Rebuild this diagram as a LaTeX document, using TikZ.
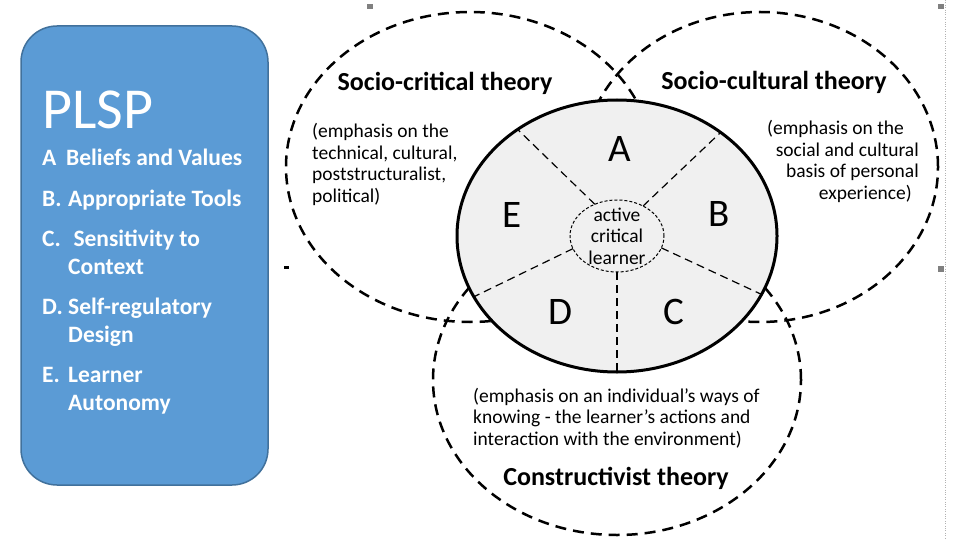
\documentclass[tikz,border=0pt]{standalone}
\usepackage{fontspec}
\setmainfont{Carlito}
\usetikzlibrary{shapes.geometric}
\definecolor{plspblue}{HTML}{5B9BD5}
\definecolor{plspedge}{HTML}{41719C}
\definecolor{learnergrey}{HTML}{F0F0F0}
\tikzset{>=latex,
  theory/.style={ellipse, draw, line width=2.5pt, dash pattern=on 11pt off 7pt, inner sep=0pt, outer sep=0pt},
  theorytitle/.style={anchor=base, font=\fontsize{26}{30}\selectfont\bfseries, inner sep=0pt},
  theorynote/.style={font=\fontsize{19.5}{21.5}\selectfont, inner sep=0pt},
  partlabel/.style={font=\fontsize{39}{44}\selectfont, inner sep=0pt},
  divider/.style={draw, line width=1.2pt, dash pattern=on 8pt off 5pt},
  plspitem/.style={anchor=base west, align=left, text=white, inner sep=0pt, font=\fontsize{23.5}{28}\selectfont\bfseries},
}

\begin{document}
\begin{tikzpicture}[x=1pt, y=-1pt]
    \useasboundingbox (0,0) rectangle (960,540);

    % PLSP box
    \node[draw=plspedge, line width=1.5pt, fill=plspblue, rounded corners=36pt, minimum width=247pt, minimum height=459pt, inner sep=0pt] (plsp) at (144.5,255.5) {};
    \node[anchor=base west, text=white, font=\fontsize{58}{60}\selectfont, inner sep=0pt] (plsptitle) at (42,129) {PLSP};
    \node[plspitem] (beliefs) at (42,166) {\makebox[24pt][l]{A}Beliefs and Values};
    \node[plspitem] (tools) at (42,206) {\makebox[26pt][l]{B.}Appropriate Tools};
    \node[plspitem] (context) at (42,274) {\makebox[26pt][l]{C.}\ Sensitivity to\\\hspace*{26pt}Context};
    \node[plspitem] (design) at (42,342) {\makebox[26pt][l]{D.}Self-regulatory\\\hspace*{26pt}Design};
    \node[plspitem] (autonomy) at (42,410) {\makebox[26pt][l]{E.}Learner\\\hspace*{26pt}Autonomy};

    % three theories
    \node[theory, minimum width=368pt, minimum height=310pt] (critical) at (470,167) {};
    \node[theory, minimum width=356pt, minimum height=310pt] (cultural) at (760,167) {};
    \node[theory, minimum width=368pt, minimum height=310pt] (constructivist) at (617,380) {};

    \node[theorytitle] (criticaltitle) at (445,91) {Socio-critical theory};
    \node[theorytitle] (culturaltitle) at (774,90) {Socio-cultural theory};
    \node[theorytitle] (constructivisttitle) at (616,485) {Constructivist theory};

    \node[theorynote, anchor=base west, align=left] (criticalnote) at (312,202) {(emphasis on the\\technical, cultural,\\poststructuralist,\\political)};
    \node[theorynote, anchor=base east, align=right] (culturalnote) at (919,199) {(emphasis on the\hspace*{15pt}\\social and cultural\hspace*{9pt}\\basis of personal\\experience)\hspace*{7pt}};
    \node[theorynote, anchor=base west, align=left] (constructivistnote) at (473,445) {(emphasis on an individual's ways of\\knowing - the learner's actions and\\interaction with the environment)};

    % learner wheel
    \node[ellipse, draw, line width=3pt, fill=learnergrey, minimum width=320pt, minimum height=272pt, inner sep=0pt, outer sep=0pt] (wheel) at (617,236) {};
    \node[ellipse, draw, line width=1pt, dash pattern=on 3pt off 2pt, fill=learnergrey, minimum width=94pt, minimum height=72pt, inner sep=0pt, outer sep=0pt] (learner) at (617,236) {};
    \node[theorynote, align=center] (learnertext) at (617,236) {active\\critical\\learner};

    \draw[divider] (learner.125) -- (wheel.133);
    \draw[divider] (learner.49) -- (wheel.45);
    \draw[divider] (learner.-15) -- (wheel.-22);
    \draw[divider] (learner.196) -- (wheel.203);
    \draw[divider] (learner.270) -- (wheel.270);

    \node[partlabel] (partA) at (620,149) {A};
    \node[partlabel] (partB) at (719,214) {B};
    \node[partlabel] (partC) at (674,312) {C};
    \node[partlabel] (partD) at (560,312) {D};
    \node[partlabel] (partE) at (512,215) {E};

    % selection marks
    \fill[gray] (367,4) rectangle (373,9);
    \fill[gray] (938,4) rectangle (944,9);
    \fill[gray] (938,266) rectangle (944,272);
    \fill (284,266) rectangle (289,269);
    \draw[gray!60, dotted] (945,0) -- (945,540);
\end{tikzpicture}
\end{document}
